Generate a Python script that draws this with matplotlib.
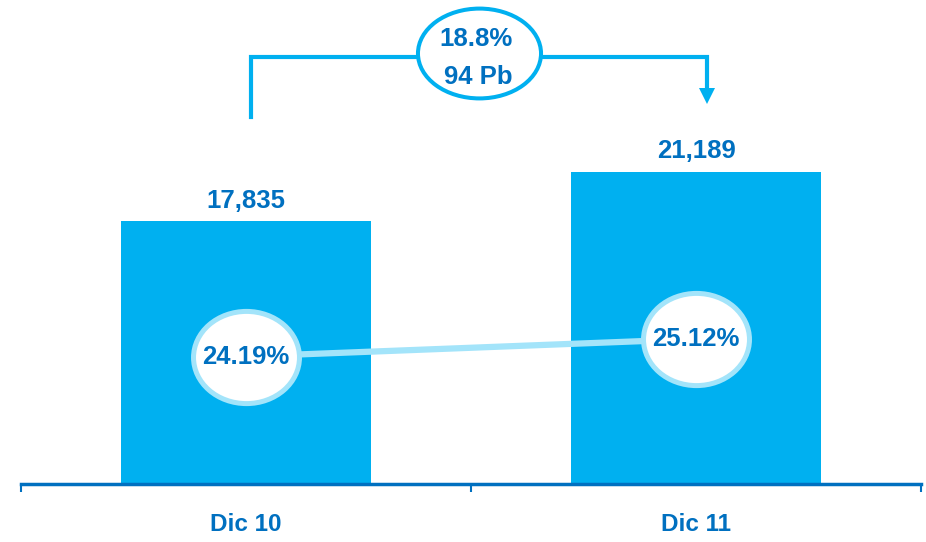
import matplotlib
matplotlib.use("Agg")
import matplotlib.pyplot as plt
from matplotlib.path import Path
from matplotlib.transforms import Affine2D
from matplotlib.markers import MarkerStyle

# ---- data ----
categories = ['Dic 10', 'Dic 11']
values = [17835, 21189]
value_labels = ['17,835', '21,189']
ratios = [24.19, 25.12]
ratio_labels = ['24.19%', '25.12%']
growth_labels = ['18.8%', '94 Pb']

# ---- style ----
BAR = '#00B0F0'
DARK = '#0070C0'
LIGHT = '#A3E4FA'
FONT = 'Liberation Sans'
FS = 18.5

plt.rcParams['font.family'] = [FONT, 'DejaVu Sans']

W, H = 926, 542
fig = plt.figure(figsize=(W / 100, H / 100), dpi=100)
ax = fig.add_axes([0, 0, 1, 1])

x = list(range(len(categories)))
px_per_unit = 263 / 17835.0
ax.set_xlim(-246 / 450, (W - 246) / 450)
ax.set_ylim(-58 / px_per_unit, 484 / px_per_unit)

bars = ax.bar(x, values, width=250 / 450, color=BAR, zorder=2)
ax.bar_label(bars, labels=value_labels, padding=6, color=DARK,
             fontsize=FS, fontweight='bold')

# axis styling
for s in ['top', 'right', 'left']:
    ax.spines[s].set_visible(False)
ax.spines['bottom'].set_position(('data', 0))
ax.spines['bottom'].set_bounds(-0.5, len(categories) - 0.5)
ax.spines['bottom'].set_color(DARK)
ax.spines['bottom'].set_linewidth(2.5)
ax.spines['bottom'].set_zorder(3)
ax.set_yticks([])
ax.set_xticks(x)
ax.set_xticklabels(categories, fontsize=17.5, fontweight='bold', color=DARK)
ax.tick_params(axis='x', which='major', length=0, pad=21)
ax.set_xticks([i - 0.5 for i in range(len(categories) + 1)], minor=True)
ax.tick_params(axis='x', which='minor', length=6, width=1.5, color=DARK,
               direction='out')

# ---- growth bracket ----
def ypx(p):
    return (484 - p) / px_per_unit

xl = x[0] + 5 / 450
xr = x[1] + 11 / 450
ax.plot([xl, xl, xr, xr], [ypx(117), ypx(57), ypx(57), ypx(90)],
        color=BAR, lw=3, solid_joinstyle='miter', zorder=4, clip_on=False)
ax.plot([xr], [ypx(96)], marker='v', markersize=11, color=BAR,
        markeredgewidth=0, zorder=4, clip_on=False)

def ellipse_marker(ratio):
    return MarkerStyle(Path.unit_circle().transformed(Affine2D().scale(1, ratio)))

xc = (x[0] + x[1]) / 2 + 8 / 450
ax.plot([xc], [ypx(53)], marker=ellipse_marker(0.73), markersize=88.6,
        markerfacecolor='white', markeredgecolor=BAR, markeredgewidth=2.9,
        linestyle='none', zorder=5, clip_on=False)
ax.text(xc - 3 / 450, ypx(39), growth_labels[0], ha='center', va='center',
        fontsize=FS, fontweight='bold', color=DARK, zorder=6)
ax.text(xc - 1 / 450, ypx(77), growth_labels[1], ha='center', va='center',
        fontsize=FS, fontweight='bold', color=DARK, zorder=6)

# ---- ratio line (secondary axis) ----
ax2 = ax.twinx()
ax2.set_position([0, 0, 1, 1])
ax2.set_axis_off()
pct_px = 18.8
ax2.set_ylim(24.19 - (H - 356.5) / pct_px, 24.19 + 356.5 / pct_px)
ax2.set_xlim(ax.get_xlim())
ax2.plot(x, ratios, color=LIGHT, lw=4.5, solid_capstyle='butt', zorder=2)
ax2.plot(x, ratios, marker=ellipse_marker(0.87), markersize=76.3,
         markerfacecolor='white', markeredgecolor=LIGHT, markeredgewidth=3.6,
         linestyle='none', zorder=3)
for xi, r, lab in zip(x, ratios, ratio_labels):
    ax2.text(xi, r, lab, ha='center', va='center', fontsize=FS,
             fontweight='bold', color=DARK, zorder=4)

fig.savefig('out.png', dpi=100)
